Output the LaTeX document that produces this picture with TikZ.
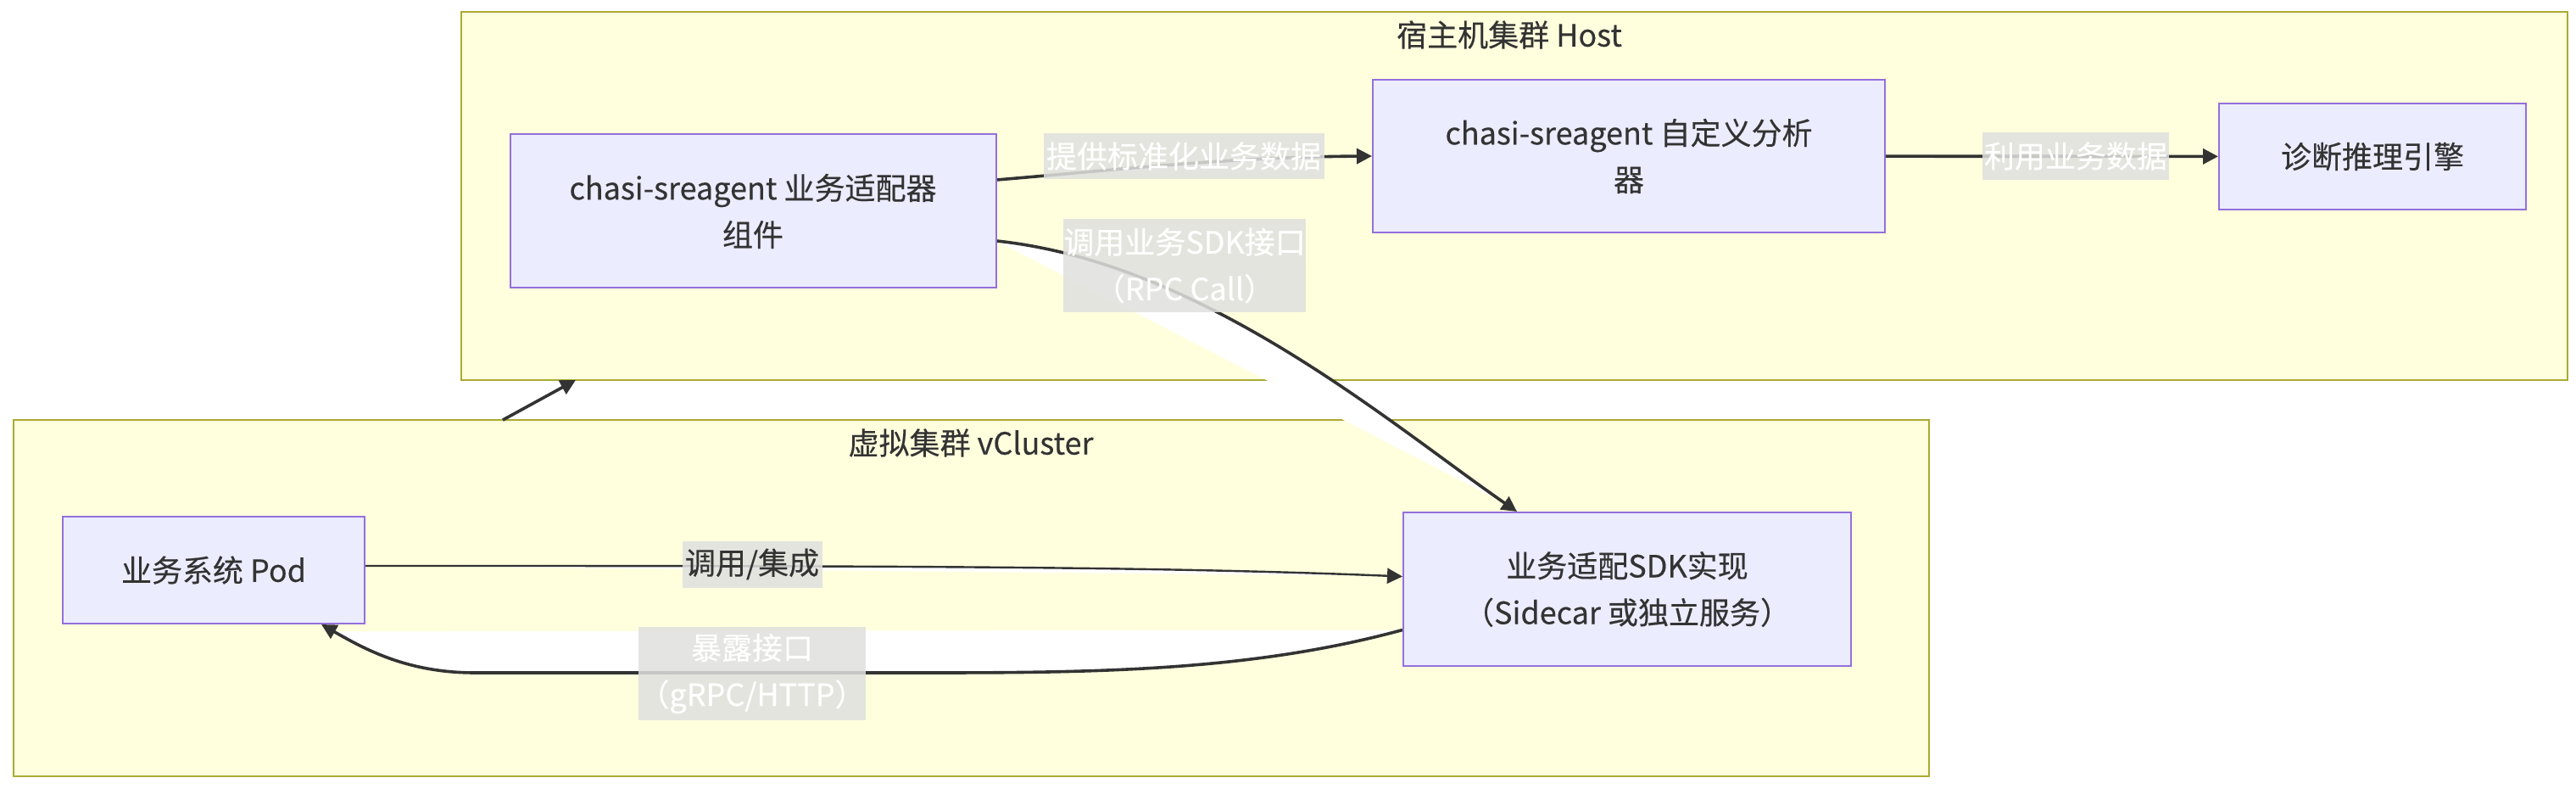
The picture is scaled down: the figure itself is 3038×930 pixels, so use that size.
\documentclass[tikz,border=0pt]{standalone}
\usepackage{fontspec}
\setmainfont{Noto Sans CJK SC}[FakeBold=0.3]
\usetikzlibrary{arrows.meta,calc}
\definecolor{clfill}{HTML}{FFFFDE}
\definecolor{cldraw}{HTML}{AAAA33}
\definecolor{ndfill}{HTML}{ECECFF}
\definecolor{nddraw}{HTML}{9370DB}
\definecolor{txt}{HTML}{333333}
\definecolor{lbg}{HTML}{E0E0DE}
\begin{document}
\begin{tikzpicture}[x=0.5pt,y=-0.5pt,
  cluster/.style={draw=cldraw, fill=clfill, line width=1pt, inner sep=0pt},
  box/.style={draw=nddraw, fill=ndfill, line width=1pt, inner sep=0pt, align=center, text=txt, font=\fontsize{18pt}{27.5pt}\selectfont},
  ctitle/.style={text=txt, font=\fontsize{18pt}{27.5pt}\selectfont, inner sep=0pt},
  elabel/.style={fill=lbg, fill opacity=0.85, text opacity=1, text=white, inner sep=0pt, align=center, font=\fontsize{18pt}{27.5pt}\selectfont},
  edge/.style={draw=txt, line width=1.8pt, -{Triangle[length=9pt,width=9pt,fill=txt]}},
  ]
\fill[white] (0,0) rectangle (3038,930);
\useasboundingbox (0,0) rectangle (3038,930);
% clusters
\node[cluster, minimum width=1242pt, minimum height=217pt] (host) at (1786,231) {};
\node[cluster, minimum width=1129.5pt, minimum height=210pt] (vc) at (1145.5,705) {};
\node[ctitle] (hostt) at (1780,41) {宿主机集群 Host};
\node[ctitle] (vct) at (1145,522) {虚拟集群 vCluster};
% node positions
\path (888,249) coordinate (Ac) (1921,184) coordinate (Bc) (2798,184.5) coordinate (Cc)
      (252,672) coordinate (Dc) (1919,694.5) coordinate (Ec);
\node[box, minimum width=286.5pt, minimum height=90.5pt] (A) at (Ac) {chasi-sreagent 业务适配器\\组件};
\node[box, minimum width=302pt, minimum height=90pt] (B) at (Bc) {chasi-sreagent 自定义分析\\器};
\node[box, minimum width=181pt, minimum height=62.5pt] (C) at (Cc) {诊断推理引擎};
\node[box, minimum width=178pt, minimum height=63pt] (D) at (Dc) {业务系统 Pod};
\node[box, minimum width=264pt, minimum height=90.5pt] (E) at (Ec) {业务适配SDK实现\\（Sidecar 或独立服务）};
% edges
\coordinate (vcT) at (593,495);
\coordinate (hostB) at (679,448);
\draw[edge] (vcT) -- (hostB);
\draw[edge, fill=white] ($(A.east)+(0,-37)$) .. controls (1320,200) and (1450,185) .. (B.west);
\draw[edge] (B) -- (C);
\draw[edge, fill=white] ($(A.east)+(0,35)$) .. controls (1420,310) and (1640,500) .. ($(E.north)+(-130,0)$);
\draw[edge, line width=1.2pt, fill=white] ($(D.east)+(0,-5)$) .. controls (1000,667) and (1350,667) .. ($(E.west)+(0,-15)$);
\draw[edge, fill=white] ($(E.west)+(0,48)$) .. controls (1480,790) and (1300,793) .. (1100,793) -- (560,793) .. controls (480,793) and (430,765) .. ($(D.south)+(127,0)$);
% redraw nodes on top of edge fills
\node[box, minimum width=286.5pt, minimum height=90.5pt] at (Ac) {chasi-sreagent 业务适配器\\组件};
\node[box, minimum width=264pt, minimum height=90.5pt] at (Ec) {业务适配SDK实现\\（Sidecar 或独立服务）};
% labels
\node[elabel, minimum width=165.5pt, minimum height=27pt] (l1) at (1396,184) {提供标准化业务数据};
\node[elabel, minimum width=110pt, minimum height=28pt] (l2) at (2448,184) {利用业务数据};
\node[elabel, minimum width=141pt, minimum height=55pt] (l3) at (1397,313) {调用业务SDK接口\\（RPC Call）};
\node[elabel, text=txt, minimum width=82.5pt, minimum height=27.5pt] (l4) at (887,665) {调用/集成};
\node[elabel, minimum width=131.5pt, minimum height=55pt] (l5) at (887,794) {暴露接口\\（gRPC/HTTP）};
\end{tikzpicture}
\end{document}
